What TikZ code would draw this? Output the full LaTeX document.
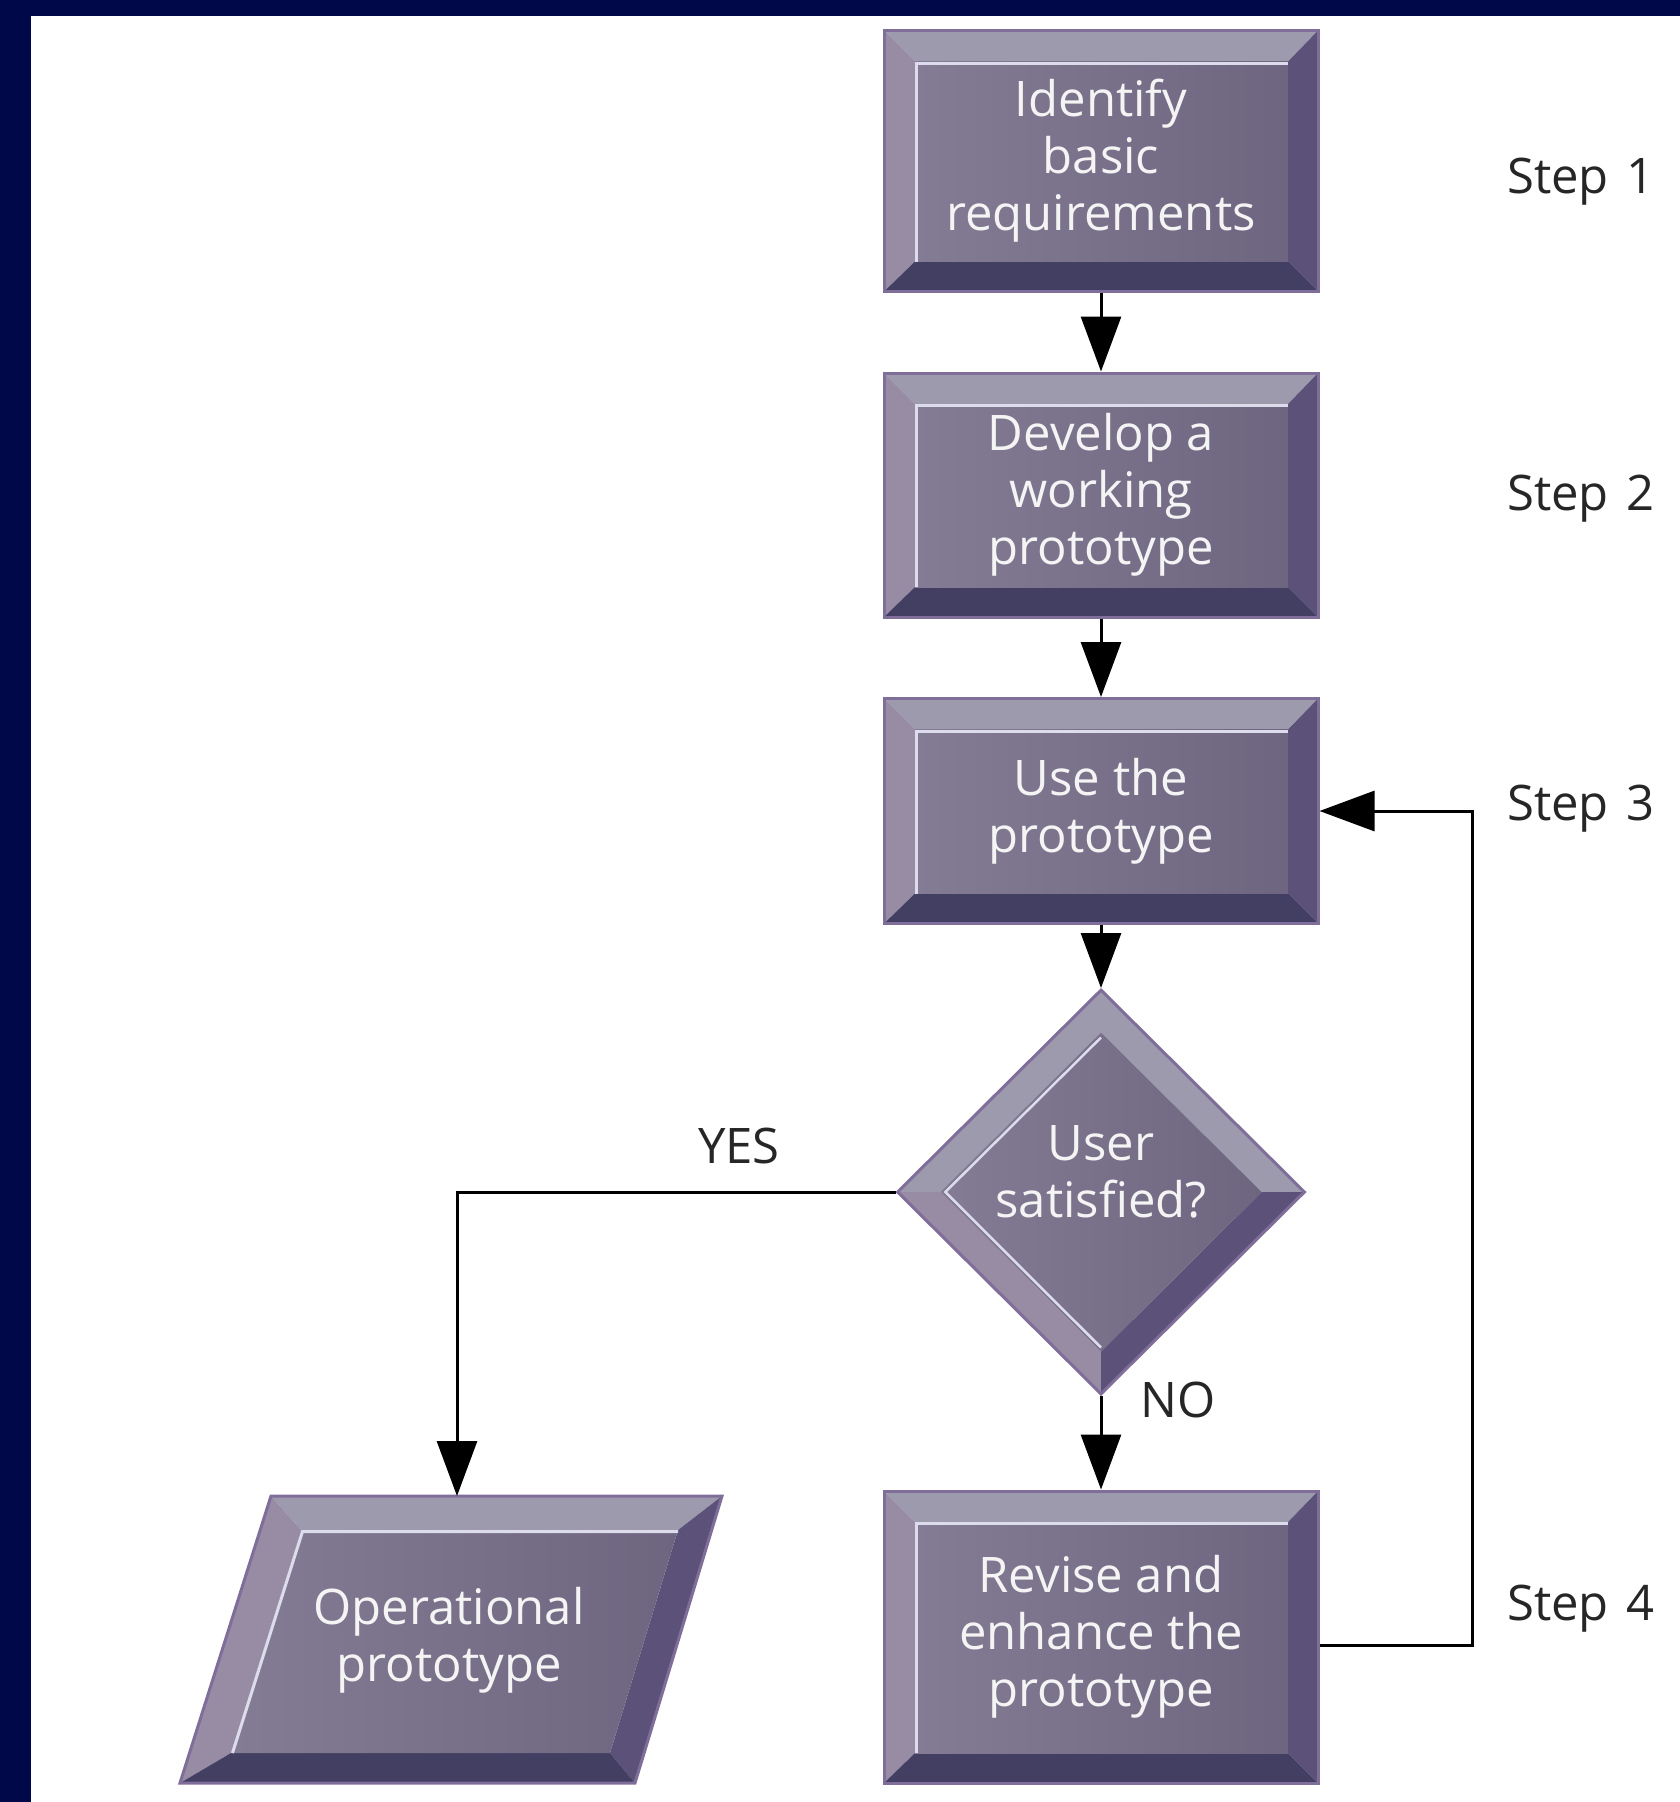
\documentclass[tikz,border=0pt]{standalone}
\usepackage{fontspec}
\setmainfont{Open Sans}
\usetikzlibrary{arrows.meta,calc,shapes.geometric}
\definecolor{navy}{RGB}{0,8,74}
\definecolor{bdr}{RGB}{128,110,154}
\definecolor{bevT}{RGB}{157,154,174}
\definecolor{bevL}{RGB}{152,139,164}
\definecolor{bevR}{RGB}{91,81,121}
\definecolor{bevB}{RGB}{66,63,98}
\definecolor{faceL}{RGB}{132,124,148}
\definecolor{faceR}{RGB}{110,101,128}
\definecolor{hl}{RGB}{220,220,236}
\definecolor{txt}{RGB}{244,244,244}
\tikzset{
  bigfont/.style={font=\fontsize{49}{57}\selectfont},
  conn/.style={line width=3pt, -{Triangle[length=55pt,width=40pt]}},
  steplabel/.style={anchor=base west, inner sep=0pt, bigfont, text=black!85},
  labeltext/.style={anchor=base west, inner sep=0pt, bigfont, text=black!85},
  boxtext/.style={inner sep=0pt, bigfont, text=txt, align=center},
  bevelbox/.style={rectangle, inner sep=0pt, minimum width=434pt, draw=bdr, line width=3pt,
    text=txt, bigfont, align=center,
    path picture={
      \coordinate (pNW) at (path picture bounding box.north west);
      \coordinate (pNE) at (path picture bounding box.north east);
      \coordinate (pSE) at (path picture bounding box.south east);
      \coordinate (pSW) at (path picture bounding box.south west);
      \coordinate (iNW) at ($(pNW)+(31,31)$);
      \coordinate (iNE) at ($(pNE)+(-30,31)$);
      \coordinate (iSE) at ($(pSE)+(-30,-30)$);
      \coordinate (iSW) at ($(pSW)+(31,-30)$);
      \fill[bevT] (pNW) -- (pNE) -- (iNE) -- (iNW) -- cycle;
      \fill[bevL] (pNW) -- (iNW) -- (iSW) -- (pSW) -- cycle;
      \fill[bevR] (pNE) -- (pSE) -- (iSE) -- (iNE) -- cycle;
      \fill[bevB] (pSW) -- (iSW) -- (iSE) -- (pSE) -- cycle;
      \shade[left color=faceL, right color=faceR] (iNW) rectangle (iSE);
      \draw[hl, line width=3pt] ($(iSW)+(1.5,0)$) -- ($(iNW)+(1.5,1.5)$) -- ($(iNE)+(0,1.5)$);
    }},
  diabox/.style={diamond, aspect=1, inner sep=0pt, minimum width=408pt, minimum height=405pt,
    draw=bdr, line width=3pt,
    path picture={
      \coordinate (dN) at (path picture bounding box.north);
      \coordinate (dE) at (path picture bounding box.east);
      \coordinate (dS) at (path picture bounding box.south);
      \coordinate (dW) at (path picture bounding box.west);
      \coordinate (dC) at (path picture bounding box.center);
      \coordinate (iN) at ($(dC)!0.79!(dN)$);
      \coordinate (iE) at ($(dC)!0.79!(dE)$);
      \coordinate (iS) at ($(dC)!0.79!(dS)$);
      \coordinate (iW) at ($(dC)!0.79!(dW)$);
      \fill[bevT] (dW) -- (dN) -- (dE) -- (iE) -- (iN) -- (iW) -- cycle;
      \fill[bevL] (dW) -- (iW) -- (iS) -- (dS) -- cycle;
      \fill[bevR] (dE) -- (iE) -- (iS) -- (dS) -- cycle;
      \shade[left color=faceL, right color=faceR] (iN) -- (iE) -- (iS) -- (iW) -- cycle;
      \draw[hl, line width=2.5pt] ($(iS)+(0,-4)$) -- ($(iW)+(5,0)$) -- ($(iN)+(0,5)$);
    }},
}
\begin{document}
\begin{tikzpicture}[x=1pt,y=-1pt]
  \useasboundingbox (0,0) rectangle (1680,1802);
  \fill[white] (0,0) rectangle (1680,1802);
  \fill[navy] (0,0) rectangle (1680,16);
  \fill[navy] (0,0) rectangle (31,1802);

  % boxes
  \node[bevelbox, minimum height=261pt] (box1) at (1101,161) {Identify\\basic\\requirements};
  \node[bevelbox, minimum height=244pt] (box2) at (1101,495) {Develop a\\working\\prototype};
  \node[bevelbox, minimum height=225pt] (box3) at (1101,811) {Use the\\prototype};
  \node[diabox] (dia) at (1101,1192) {};
  \node[boxtext] (diatext) at (1101,1172) {User\\satisfied?};
  \node[bevelbox, minimum height=292pt] (box4) at (1101,1637) {Revise and\\enhance the\\prototype};

  % operational prototype parallelogram
  \coordinate (oA) at (271,1496);
  \coordinate (oB) at (722,1496);
  \coordinate (oC) at (635,1783);
  \coordinate (oD) at (180,1783);
  \coordinate (ia) at (301,1530);
  \coordinate (ib) at (678,1530);
  \coordinate (ic) at (610,1753);
  \coordinate (id) at (231,1753);
  \fill[bevT] (oA) -- (oB) -- (ib) -- (ia) -- cycle;
  \fill[bevL] (oA) -- (ia) -- (id) -- (oD) -- cycle;
  \fill[bevR] (oB) -- (oC) -- (ic) -- (ib) -- cycle;
  \fill[bevB] (oD) -- (id) -- (ic) -- (oC) -- cycle;
  \shade[left color=faceL, right color=faceR] (ia) -- (ib) -- (ic) -- (id) -- cycle;
  \draw[hl, line width=3pt] ($(id)+(1.5,0)$) -- ($(ia)+(1.5,1.5)$) -- ($(ib)+(0,1.5)$);
  \draw[bdr, line width=3pt] (oA) -- (oB) -- (oC) -- (oD) -- cycle;
  \node[boxtext] (op) at (449,1640) {Operational\\prototype};
  \coordinate (optop) at (457,1496);

  % connectors
  \draw[conn] (box1) -- (box2);
  \draw[conn] (box2) -- (box3);
  \draw[conn] (box3) -- (dia);
  \draw[conn] (dia) -- (box4);
  \draw[conn] (dia.west) -| (optop);
  \draw[conn] ($(box4.east)+(0,8)$) -- ++(153,0) |- (box3.east);

  % labels
  \node[labeltext] (yes) at (698,1163) {YES};
  \node[labeltext] (no) at (1140,1417) {NO};
  \node[steplabel] (s1) at (1507,193) {Step\hspace{0.35em}1};
  \node[steplabel] (s2) at (1507,510) {Step\hspace{0.35em}2};
  \node[steplabel] (s3) at (1507,820) {Step\hspace{0.35em}3};
  \node[steplabel] (s4) at (1507,1620) {Step\hspace{0.35em}4};
\end{tikzpicture}
\end{document}
